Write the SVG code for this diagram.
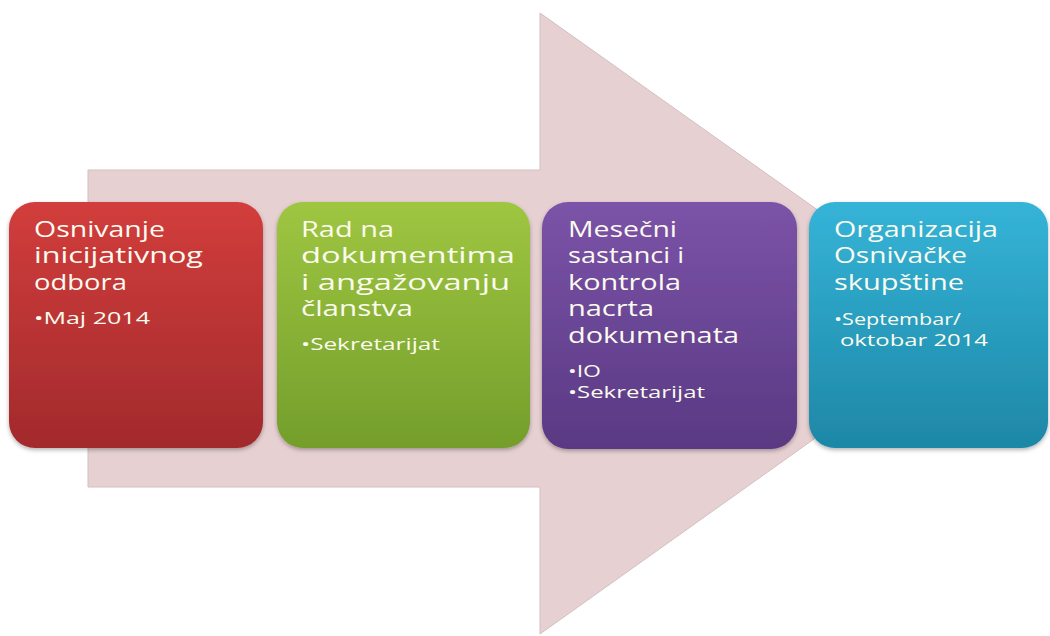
<svg xmlns="http://www.w3.org/2000/svg" width="1050" height="636" viewBox="0 0 1050 636">
  <defs>
    <linearGradient id="gRed" x1="0" y1="0" x2="0" y2="1">
      <stop offset="0" stop-color="#d23d3c"/>
      <stop offset="1" stop-color="#a22a2c"/>
    </linearGradient>
    <linearGradient id="gGreen" x1="0" y1="0" x2="0" y2="1">
      <stop offset="0" stop-color="#9fc641"/>
      <stop offset="1" stop-color="#739e2b"/>
    </linearGradient>
    <linearGradient id="gPurple" x1="0" y1="0" x2="0" y2="1">
      <stop offset="0" stop-color="#7b53a8"/>
      <stop offset="1" stop-color="#5a3983"/>
    </linearGradient>
    <linearGradient id="gBlue" x1="0" y1="0" x2="0" y2="1">
      <stop offset="0" stop-color="#35b4d8"/>
      <stop offset="1" stop-color="#1e87a6"/>
    </linearGradient>
    <filter id="sh" x="-10%" y="-10%" width="120%" height="125%">
      <feDropShadow dx="0" dy="2" stdDeviation="2" flood-color="#000" flood-opacity="0.3"/>
    </filter>
  </defs>
  <style>
    .t { font-family: "Open Sans", "Noto Sans", sans-serif; fill: #fbfbef; font-size: 21px; }
    .b { font-family: "Open Sans", "Noto Sans", sans-serif; fill: #fbfbef; font-size: 16px; }
  </style>
  <rect width="1050" height="636" fill="#ffffff"/>
  <g id="arrow">
    <polygon points="88,170 540,170 540,13 977,323 540,634 540,487 88,487" fill="#e7d0d2" stroke="#d2bfc1" stroke-width="1"/>
  </g>
  <g id="connectors"/>
  <g id="node1">
    <rect x="9" y="202" width="254" height="246" rx="26" fill="url(#gRed)" filter="url(#sh)"/>
    <text class="t" x="34" y="237" textLength="131" lengthAdjust="spacingAndGlyphs">Osnivanje</text>
    <text class="t" x="34" y="263" textLength="169" lengthAdjust="spacingAndGlyphs">inicijativnog</text>
    <text class="t" x="34" y="290" textLength="93" lengthAdjust="spacingAndGlyphs">odbora</text>
    <text class="b" x="34" y="324" textLength="116" lengthAdjust="spacingAndGlyphs">•Maj 2014</text>
  </g>
  <g id="node2">
    <rect x="277" y="202" width="253" height="246" rx="26" fill="url(#gGreen)" filter="url(#sh)"/>
    <text class="t" x="301" y="237" textLength="93" lengthAdjust="spacingAndGlyphs">Rad na</text>
    <text class="t" x="301" y="263" textLength="214" lengthAdjust="spacingAndGlyphs">dokumentima</text>
    <text class="t" x="301" y="290" textLength="209" lengthAdjust="spacingAndGlyphs">i angažovanju</text>
    <text class="t" x="301" y="316" textLength="112" lengthAdjust="spacingAndGlyphs">članstva</text>
    <text class="b" x="301" y="350" textLength="139" lengthAdjust="spacingAndGlyphs">•Sekretarijat</text>
  </g>
  <g id="node3">
    <rect x="542" y="202" width="255" height="247" rx="26" fill="url(#gPurple)" filter="url(#sh)"/>
    <text class="t" x="568" y="237" textLength="109" lengthAdjust="spacingAndGlyphs">Mesečni</text>
    <text class="t" x="568" y="263" textLength="116" lengthAdjust="spacingAndGlyphs">sastanci i</text>
    <text class="t" x="568" y="290" textLength="113" lengthAdjust="spacingAndGlyphs">kontrola</text>
    <text class="t" x="568" y="316" textLength="86" lengthAdjust="spacingAndGlyphs">nacrta</text>
    <text class="t" x="568" y="343" textLength="171" lengthAdjust="spacingAndGlyphs">dokumenata</text>
    <text class="b" x="568" y="377" textLength="33" lengthAdjust="spacingAndGlyphs">•IO</text>
    <text class="b" x="568" y="398" textLength="137" lengthAdjust="spacingAndGlyphs">•Sekretarijat</text>
  </g>
  <g id="node4">
    <rect x="809" y="202" width="239" height="246" rx="26" fill="url(#gBlue)" filter="url(#sh)"/>
    <text class="t" x="834" y="237" textLength="164" lengthAdjust="spacingAndGlyphs">Organizacija</text>
    <text class="t" x="834" y="263" textLength="133" lengthAdjust="spacingAndGlyphs">Osnivačke</text>
    <text class="t" x="834" y="290" textLength="130" lengthAdjust="spacingAndGlyphs">skupštine</text>
    <text class="b" x="834" y="325" textLength="127" lengthAdjust="spacingAndGlyphs">•Septembar/</text>
    <text class="b" x="840" y="346" textLength="148" lengthAdjust="spacingAndGlyphs">oktobar 2014</text>
  </g>
</svg>
